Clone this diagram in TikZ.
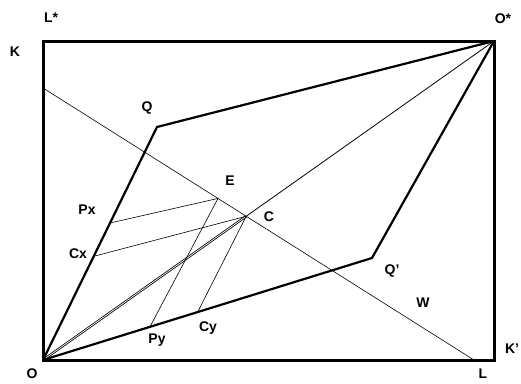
\documentclass[tikz,border=0pt]{standalone}
\usepackage{fontspec}
\setmainfont{Liberation Sans}
\usetikzlibrary{calc}

\begin{document}
\begin{tikzpicture}[
			x=1pt, y=-1pt,
			lbl/.style={font=\fontsize{14}{16}\selectfont\bfseries, inner sep=0pt},
			box/.style={line width=3pt, line cap=rect},
			offer/.style={line width=2.2pt, line join=miter},
			thin/.style={line width=0.8pt},
			hair/.style={line width=0.6pt}
			]
			
			\useasboundingbox (0,0) rectangle (521,383);
			
			%%%%%%%%%%%%%%%%%%%%%%%%%%%%%%%%%%%%%%%%%%%%%%%%%%%%%%%%%%%%
			% Box corners
			%%%%%%%%%%%%%%%%%%%%%%%%%%%%%%%%%%%%%%%%%%%%%%%%%%%%%%%%%%%%
			
			\coordinate (O) at (43,360);
			\coordinate (tl) at (43,41);
			\coordinate (Os) at (494,41);
			\coordinate (br) at (494,360);
			
			%%%%%%%%%%%%%%%%%%%%%%%%%%%%%%%%%%%%%%%%%%%%%%%%%%%%%%%%%%%%
			% Kinks, budget line and equilibrium
			%%%%%%%%%%%%%%%%%%%%%%%%%%%%%%%%%%%%%%%%%%%%%%%%%%%%%%%%%%%%
			
			\coordinate (Q) at (157,127);
			\coordinate (Qp) at (372,258);
			
			\coordinate (wa) at (43,88);
			\coordinate (wb) at (474,360);
			
			\coordinate (C) at (intersection of O--Os and wa--wb);
			\coordinate (E) at ($(wa)!0.406!(wb)$);
			
			\coordinate (px) at ($(O)!0.588!(Q)$);
			\coordinate (cx) at ($(O)!0.445!(Q)$);
			\coordinate (py) at ($(O)!0.325!(Qp)$);
			\coordinate (cy) at ($(O)!0.47!(Qp)$);
			
			%%%%%%%%%%%%%%%%%%%%%%%%%%%%%%%%%%%%%%%%%%%%%%%%%%%%%%%%%%%%
			% Labels
			%%%%%%%%%%%%%%%%%%%%%%%%%%%%%%%%%%%%%%%%%%%%%%%%%%%%%%%%%%%%
			
			\node[lbl] (lLs) at (51,18) {L*};
			\node[lbl] (lK) at (15,52) {K};
			\node[lbl] (lOs) at (503,19) {O*};
			\node[lbl] (lQ) at (147,108) {Q};
			\node[lbl] (lE) at (230,181) {E};
			\node[lbl] (lC) at (269,217) {C};
			\node[lbl] (lPx) at (87,210) {Px};
			\node[lbl] (lCx) at (78,254) {Cx};
			\node[lbl] (lPy) at (157,340) {Py};
			\node[lbl] (lCy) at (208,328) {Cy};
			\node[lbl] (lQp) at (392,271) {Q'};
			\node[lbl] (lW) at (423,303) {W};
			\node[lbl] (lKp) at (512,349) {K'};
			\node[lbl] (lL) at (483,374) {L};
			\node[lbl] (lO) at (32,374) {O};
			
			%%%%%%%%%%%%%%%%%%%%%%%%%%%%%%%%%%%%%%%%%%%%%%%%%%%%%%%%%%%%
			% Connections
			%%%%%%%%%%%%%%%%%%%%%%%%%%%%%%%%%%%%%%%%%%%%%%%%%%%%%%%%%%%%
			
			% box
			
			\draw[box] (O) -- (tl) -- (Os) -- (br) -- cycle;
			
			% budget line
			
			\draw[hair] (wa) -- (wb);
			
			% diagonal
			
			\draw[thin, double, double distance=0.7pt] (O) -- (C);
			\draw[thin] (C) -- (Os);
			
			% offer curves
			
			\draw[offer] (O) -- (Q) -- (Os);
			\draw[offer] (O) -- (Qp) -- (Os);
			
			% projections
			
			\draw[hair] (px) -- (E);
			\draw[hair] (py) -- (E);
			\draw[hair] (cx) -- (C);
			\draw[hair] (cy) -- (C);
			
			%%%%%%%%%%%%%%%%%%%%%%%%%%%%%%%%%%%%%%%%%%%%%%%%%%%%%%%%%%%%
			
		\end{tikzpicture}
\end{document}
